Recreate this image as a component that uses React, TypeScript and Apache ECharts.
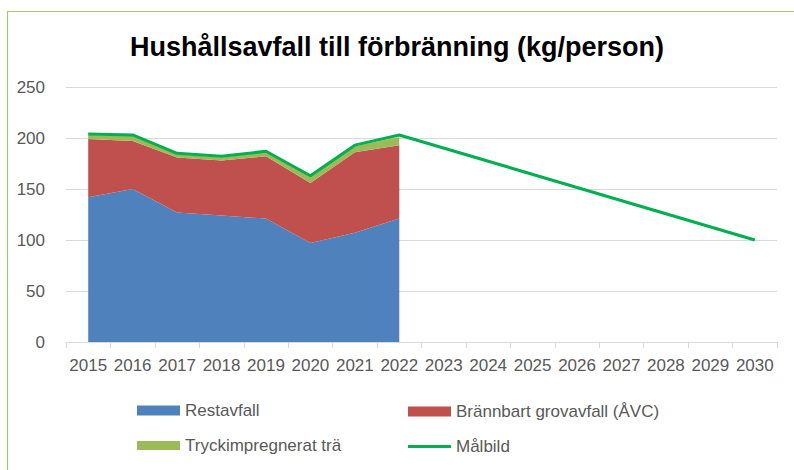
import React, { useEffect, useRef } from "react";
import * as echarts from "echarts";

const years = ["2015", "2016", "2017", "2018", "2019", "2020", "2021", "2022", "2023", "2024", "2025", "2026", "2027", "2028", "2029", "2030"];
const restavfall = [142, 150, 127, 124, 121, 97, 107, 121];
const brannbart = [57, 47, 54, 54, 61, 59, 79, 72];
const tryck = [4, 5, 3, 3, 4, 6, 6, 8];
const malbild: (number | null)[] = [204, 203, 185, 182, 187, 163, 193, 203, null, null, null, null, null, null, null, 100];

const FONT = "'Liberation Sans', Arial, sans-serif";
const TEXT = "#595959";

export default function App() {
  const ref = useRef<HTMLDivElement>(null);
  useEffect(() => {
    if (!ref.current) return;
    const chart = echarts.init(ref.current, null, { renderer: "svg" });
    const legend = (name: string, left: number, top: number, icon: string, h: number) => ({
      data: [name],
      left,
      top,
      padding: 0,
      icon,
      itemWidth: 43,
      itemHeight: h,
      itemGap: 0,
      textStyle: { fontFamily: FONT, fontSize: 17, color: TEXT, padding: [0, 0, 0, 0] },
    });
    chart.setOption({
      animation: false,
      backgroundColor: "#ffffff",
      title: {
        text: "Hushållsavfall till förbränning (kg/person)",
        left: "center",
        top: 28,
        textStyle: { fontFamily: "'Liberation Sans', Arial, sans-serif", fontSize: 27, fontWeight: "bold", color: "#000" },
      },
      graphic: [
        {
          type: "rect",
          shape: { x: 7.5, y: 11.5, width: 900, height: 600 },
          style: { fill: "none", stroke: "#A8C47A", lineWidth: 1.2 },
          silent: true,
        },
      ],
      legend: [
        legend("Restavfall", 137, 402, "rect", 10),
        legend("Brännbart grovavfall (ÅVC)", 408, 403, "rect", 10),
        legend("Tryckimpregnerat trä", 137, 437, "rect", 9),
        legend("Målbild", 408, 438, "rect", 3),
      ],
      grid: { left: 66, right: 17, top: 87, bottom: 128 },
      xAxis: {
        type: "category",
        data: years,
        boundaryGap: true,
        axisLine: { lineStyle: { color: "#D9D9D9", width: 1 } },
        axisTick: { show: true, length: 6, lineStyle: { color: "#D9D9D9" } },
        axisLabel: { fontFamily: FONT, fontSize: 17, color: TEXT, margin: 15, interval: 0 },
      },
      yAxis: {
        type: "value",
        min: 0,
        max: 250,
        interval: 50,
        axisLine: { show: false },
        axisTick: { show: false },
        axisLabel: { fontFamily: FONT, fontSize: 17, color: TEXT, margin: 21 },
        splitLine: { lineStyle: { color: "#D9D9D9", width: 1 } },
      },
      series: [
        {
          name: "Restavfall",
          type: "line",
          stack: "total",
          data: restavfall,
          symbol: "none",
          lineStyle: { width: 0 },
          areaStyle: { color: "#4F81BD", opacity: 1 },
          itemStyle: { color: "#4F81BD" },
        },
        {
          name: "Brännbart grovavfall (ÅVC)",
          type: "line",
          stack: "total",
          data: brannbart,
          symbol: "none",
          lineStyle: { width: 0 },
          areaStyle: { color: "#C0504D", opacity: 1 },
          itemStyle: { color: "#C0504D" },
        },
        {
          name: "Tryckimpregnerat trä",
          type: "line",
          stack: "total",
          data: tryck,
          symbol: "none",
          lineStyle: { width: 0 },
          areaStyle: { color: "#9BBB59", opacity: 1 },
          itemStyle: { color: "#9BBB59" },
        },
        {
          name: "Målbild",
          type: "line",
          data: malbild,
          connectNulls: true,
          symbol: "none",
          z: 5,
          lineStyle: { width: 3, color: "#00B050" },
          itemStyle: { color: "#00B050" },
        },
      ],
    });
    return () => chart.dispose();
  }, []);
  return <div ref={ref} style={{ width: 794, height: 470, position: "absolute", left: 0, top: 0 }} />;
}
